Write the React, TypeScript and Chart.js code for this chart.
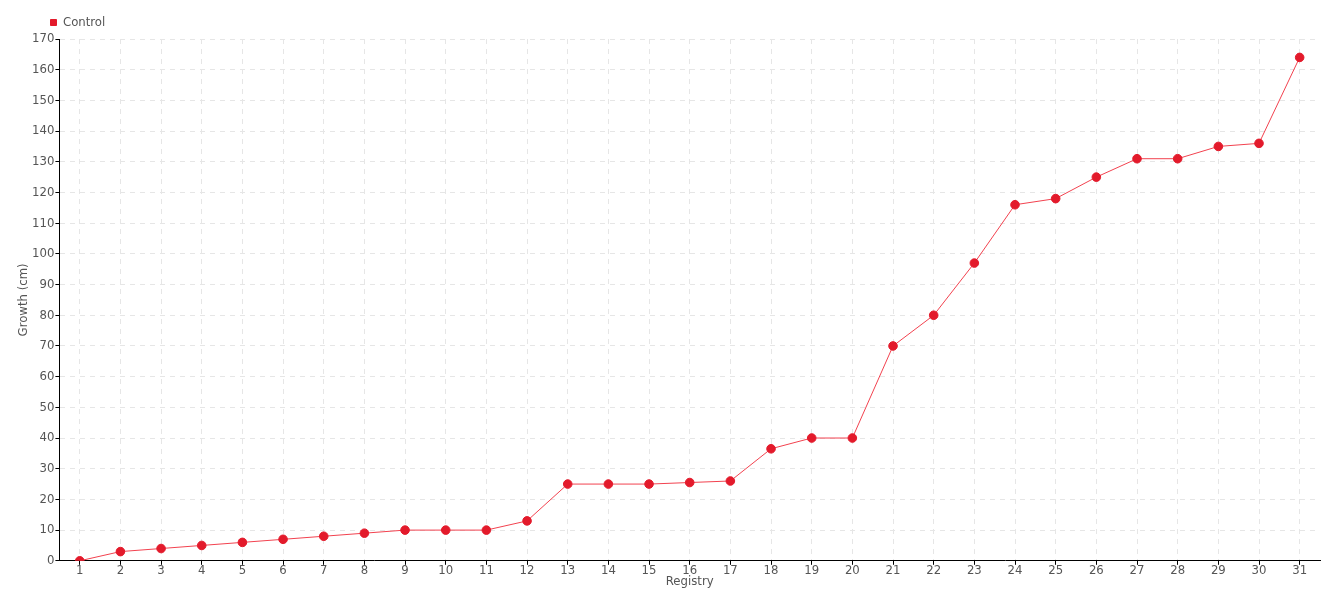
import React, { useEffect, useRef } from "react";
import { Chart, registerables } from "chart.js";

Chart.register(...registerables);

const categories = ["1","2","3","4","5","6","7","8","9","10","11","12","13","14","15","16","17","18","19","20","21","22","23","24","25","26","27","28","29","30","31"];
const controlValues = [0, 3, 4, 5, 6, 7, 8, 9, 10, 10, 10, 13, 25, 25, 25, 25.5, 26, 36.5, 40, 40, 70, 80, 97, 116, 118, 125, 131, 131, 135, 136, 164];
const seriesName = "Control";
const xTitle = "Registry";
const yTitle = "Growth (cm)";
const yMin = 0;
const yMax = 170;
const yStep = 10;

const FONT = "'DejaVu Sans Condensed', 'Liberation Sans Narrow', sans-serif";
const TEXT = "#555555";

const legendShift = {
  id: "legendShift",
  afterLayout(chart: any) {
    const lg = chart.legend;
    if (lg) {
      lg.left += 28;
      lg.right += 28;
    }
  },
};

export default function App() {
  const ref = useRef<HTMLCanvasElement | null>(null);
  useEffect(() => {
    document.body.style.margin = "0";
    if (!ref.current) return;
    const chart = new Chart(ref.current, {
      type: "line",
      data: {
        labels: categories,
        datasets: [
          {
            label: seriesName,
            data: controlValues,
            borderColor: "#f2424f",
            borderWidth: 1,
            backgroundColor: "#e31a2b",
            pointBackgroundColor: "#e31a2b",
            pointBorderColor: "#e31a2b",
            pointRadius: 4.3,
            pointBorderWidth: 1,
            pointStyle: "circle",
            tension: 0,
            fill: false,
          },
        ],
      },
      plugins: [legendShift],
      options: {
        responsive: false,
        animation: false,
        layout: { padding: { left: 11.5, right: 20, top: 5, bottom: 11 } },
        plugins: {
          tooltip: { enabled: false },
          legend: {
            display: true,
            position: "top",
            align: "start",
            labels: {
              usePointStyle: true,
              pointStyle: "rect",
              boxWidth: 6,
              boxHeight: 6,
              color: TEXT,
              font: { family: FONT, size: 13 },
              padding: 11,
            },
          },
        },
        scales: {
          x: {
            type: "category",
            offset: true,
            grid: {
              display: true,
              offset: false,
              color: "#e6e6e6",
              lineWidth: 1,
              drawTicks: true,
              tickLength: 4,
              tickColor: "#000000",
            },
            border: { display: true, color: "#000000", width: 1, dash: [5, 5] },
            ticks: {
              color: TEXT,
              font: { family: FONT, size: 13 },
              padding: -2,
              maxRotation: 0,
              autoSkip: false,
            },
            title: {
              display: true,
              text: xTitle,
              color: TEXT,
              font: { family: FONT, size: 13 },
              padding: { top: -3, bottom: 0 },
            },
          },
          y: {
            min: yMin,
            max: yMax,
            grid: {
              display: true,
              color: "#e6e6e6",
              lineWidth: 1,
              drawTicks: true,
              tickLength: 4,
              tickColor: "#000000",
            },
            border: { display: true, color: "#000000", width: 1, dash: [5, 5] },
            ticks: {
              stepSize: yStep,
              color: TEXT,
              font: { family: FONT, size: 13 },
              padding: 1,
            },
            title: {
              display: true,
              text: yTitle,
              color: TEXT,
              font: { family: FONT, size: 13 },
              padding: { top: 4, bottom: 0 },
            },
          },
        },
      },
    });
    return () => chart.destroy();
  }, []);
  return (
    <div style={{ position: "absolute", left: 0, top: 0, width: 1340, height: 600 }}>
      <canvas ref={ref} width={1340} height={600} style={{ width: 1340, height: 600, display: "block" }} />
    </div>
  );
}
